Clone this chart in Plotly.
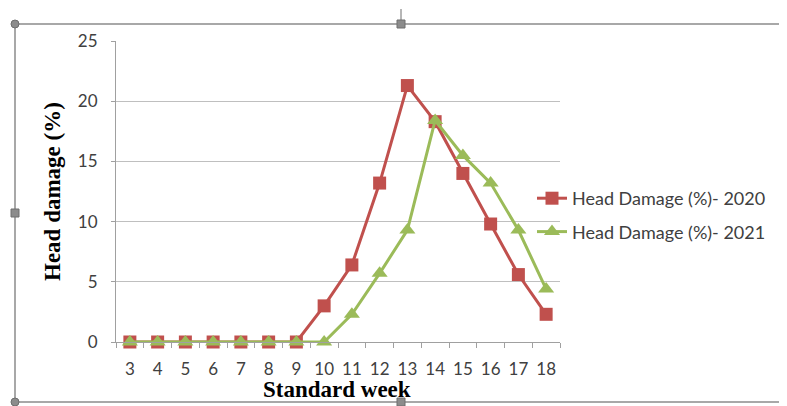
import plotly.graph_objects as go

weeks = ["3", "4", "5", "6", "7", "8", "9", "10", "11", "12", "13", "14", "15", "16", "17", "18"]
damage_2020 = [0, 0, 0, 0, 0, 0, 0, 3.0, 6.4, 13.2, 21.3, 18.3, 14.0, 9.8, 5.6, 2.3]
damage_2021 = [0, 0, 0, 0, 0, 0, 0, 0, 2.3, 5.7, 9.3, 18.4, 15.5, 13.2, 9.3, 4.4]
y_ticks = [0, 5, 10, 15, 20, 25]

RED = "#C0504D"
GREEN = "#9BBB59"
OFF = 8  # page body margin
W, H = 787 - OFF, 406 - OFF
# plot area in page pixels
PL, PR, PT, PB = 116, 560, 41, 342
L, T = PL - OFF, PT - OFF
R, B = W - (PR - OFF), H - (PB - OFF)
pw, ph = W - L - R, H - T - B

def px(x):
    return (x - OFF - L) / pw

def py(y):
    return (H - B - (y - OFF)) / ph

fig = go.Figure()
fig.add_trace(go.Scatter(
    x=weeks, y=damage_2020, mode="lines+markers", name="Head Damage (%)- 2020",
    legendgroup="a",
    line=dict(color=RED, width=3), marker=dict(symbol="square", size=13, color=RED),
    cliponaxis=False))
fig.add_trace(go.Scatter(
    x=weeks, y=damage_2021, mode="lines+markers", name="Head Damage (%)- 2021",
    legendgroup="b",
    line=dict(color=GREEN, width=3), marker=dict(symbol="triangle-up", size=14, color=GREEN),
    cliponaxis=False))

fig.update_layout(
    width=W, height=H,
    margin=dict(l=L, r=R, t=T, b=B),
    paper_bgcolor="white", plot_bgcolor="white",
    font=dict(family="Lato, Open Sans, sans-serif", size=17, color="#404040"),
    showlegend=True,
    legend=dict(x=px(532), y=py(180), xanchor="left", yanchor="top",
                font=dict(size=18, color="#404040"), bgcolor="rgba(0,0,0,0)",
                traceorder="grouped", tracegroupgap=7),
    xaxis=dict(type="category", range=[-0.5, 15.5], tickson="boundaries",
               ticks="outside", ticklen=5, tickcolor="#A0A0A0", tickangle=0,
               showline=True, linecolor="#A0A0A0", linewidth=1,
               showgrid=False, zeroline=False,
               tickfont=dict(size=17, color="#404040"), ticklabelstandoff=12),
    yaxis=dict(range=[0, 25], tickvals=y_ticks, ticks="outside", ticklen=4,
               tickcolor="#A0A0A0", showline=True, linecolor="#A0A0A0",
               showgrid=True, gridcolor="#BFBFBF", gridwidth=1, zeroline=False,
               tickfont=dict(size=17, color="#404040"), ticklabelstandoff=10),
    annotations=[
        dict(text="<b>Head damage (%)</b>", x=px(52), y=py(192), xref="paper", yref="paper",
             xanchor="center", yanchor="middle",
             textangle=-90, showarrow=False,
             font=dict(family="Liberation Serif, Times New Roman, serif", size=23, color="black")),
        dict(text="<b>Standard week</b>", x=px(337), y=py(389), xref="paper", yref="paper",
             xanchor="center", yanchor="middle",
             showarrow=False,
             font=dict(family="Liberation Serif, Times New Roman, serif", size=23, color="black")),
    ],
)

# outer chart frame with selection handles
shapes = [dict(type="rect", xref="paper", yref="paper", x0=px(15), x1=px(784), y0=py(24), y1=py(402),
               line=dict(color="#8C8C8C", width=1.5))]
handles = [(15, 24, "circle"), (401, 24, "rect"), (784, 24, "circle"),
           (15, 213, "rect"), (784, 213, "rect"),
           (15, 402, "circle"), (401, 402, "rect"), (784, 402, "circle")]
for hx, hy, kind in handles:
    shapes.append(dict(type=kind, xref="paper", yref="paper",
                       x0=px(hx - 4), x1=px(hx + 4), y0=py(hy - 4), y1=py(hy + 4),
                       fillcolor="#8C8C8C", line=dict(color="#6E6E6E", width=1)))
shapes.append(dict(type="line", xref="paper", yref="paper", x0=px(401), x1=px(401),
                   y0=py(9), y1=py(20), line=dict(color="#6E6E6E", width=1)))
fig.update_layout(shapes=shapes)

fig.write_html("out.html")
